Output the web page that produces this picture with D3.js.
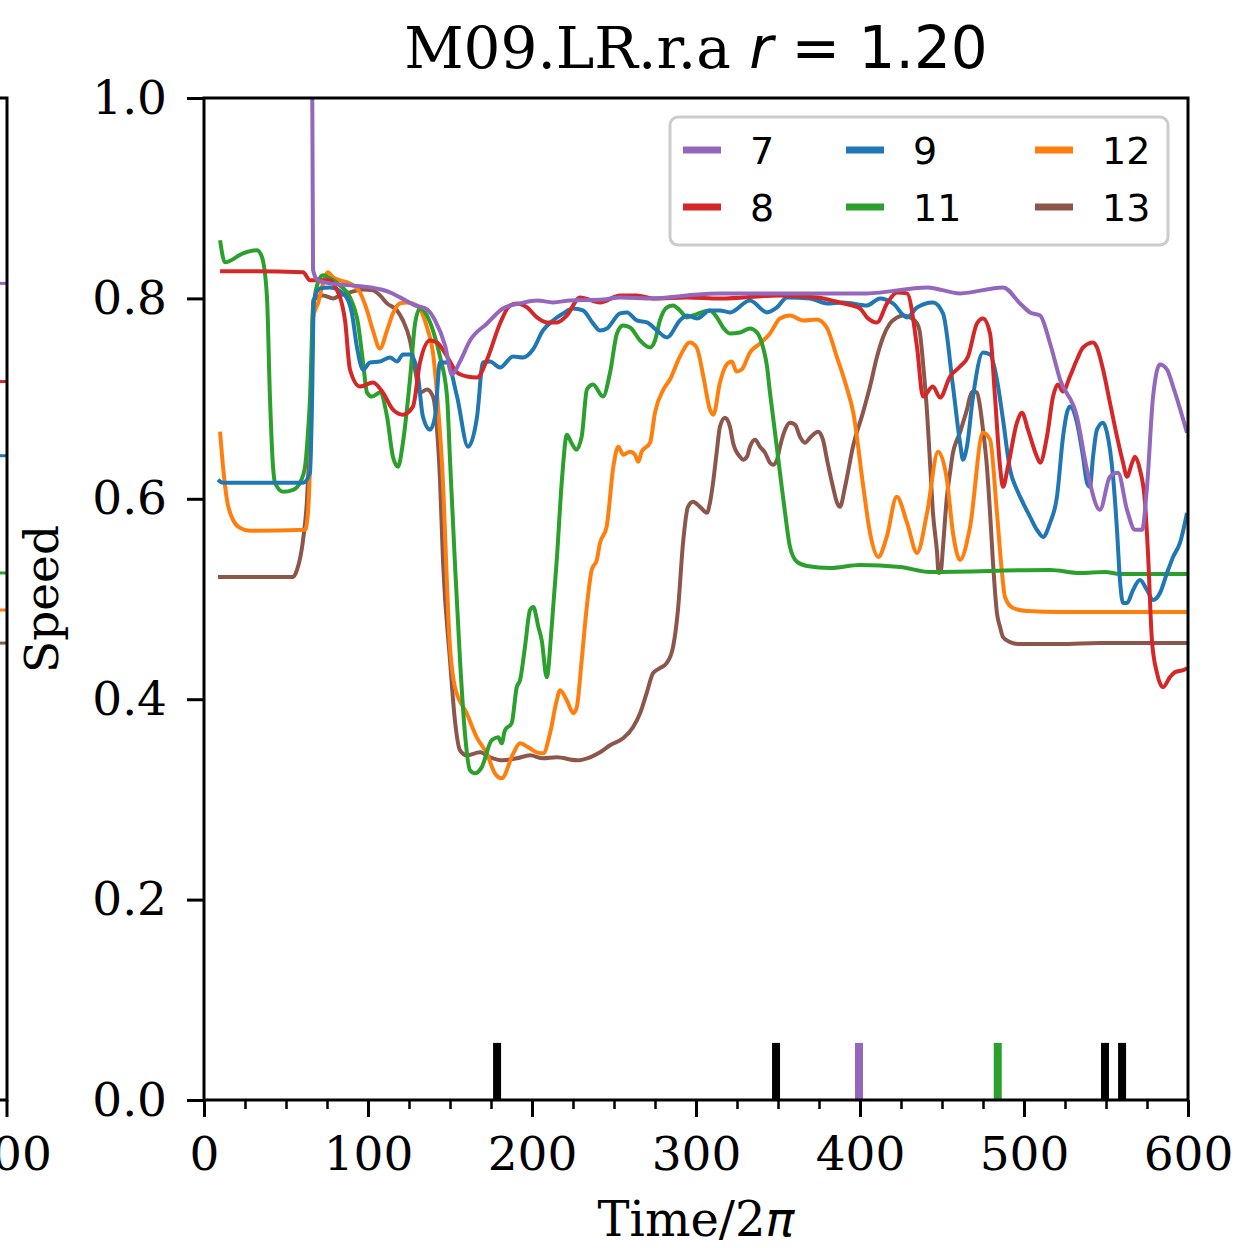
<!DOCTYPE html>
<html>
<head>
<meta charset="utf-8">
<script src="https://cdn.jsdelivr.net/npm/d3@7"></script>
<style>
  body { margin: 0; background: #fff; }
  svg text { fill: #000; }
</style>
</head>
<body>
<div class="container"></div>
<script>
// ---- data ----
var seriesNames = ['7', '8', '9', '11', '12', '13'];
var seriesColors = ['#9467bd', '#d62728', '#1f77b4', '#2ca02c', '#ff7f0e', '#8c564b'];

var xTicks = [0, 100, 200, 300, 400, 500, 600];
var xMinorTicks = [25, 50, 75, 125, 150, 175, 225, 250, 275, 325, 350, 375, 425, 450, 475, 525, 550, 575];
var yTicks = [0, 0.2, 0.4, 0.6, 0.8, 1.0];

var s7 = [[65.2,1.3],[66.5,0.828],[69.5,0.818],[76.8,0.815],[89,0.813],[101.2,0.811],[113.4,0.806],[119.5,0.801],[128.7,0.793],[136,0.789],[140.9,0.778],[147,0.753],[151.2,0.724],[156.1,0.737],[162.2,0.758],[172.6,0.775],[182.3,0.790],[192.7,0.795],[203,0.798],[212.8,0.796],[223.2,0.798],[243.3,0.799],[253.7,0.801],[273.8,0.800],[294.5,0.803],[314.6,0.805],[351.2,0.805],[404.3,0.805],[440.9,0.811],[461,0.805],[487.2,0.811],[497.6,0.795],[503.7,0.786],[509.8,0.783],[515.9,0.755],[522,0.719],[532.3,0.682],[538.4,0.629],[546.3,0.589],[552.4,0.622],[557.3,0.626],[562.8,0.589],[567.7,0.569],[572,0.569],[575,0.612],[578.7,0.702],[582.9,0.734],[587.2,0.729],[590.9,0.712],[599.4,0.666]];

var s8 = [[9.8,0.827],[30,0.827],[60.4,0.826],[64.6,0.818],[76.8,0.818],[79.9,0.812],[86,0.778],[89,0.729],[95.1,0.712],[103,0.716],[109.1,0.706],[115.2,0.689],[121.3,0.684],[127.4,0.692],[131.7,0.736],[137.8,0.758],[142.1,0.756],[148.2,0.742],[154.3,0.726],[160.4,0.722],[166.5,0.721],[172.6,0.739],[180.5,0.775],[186.6,0.793],[190.9,0.795],[197,0.791],[203,0.781],[209.1,0.776],[215.2,0.776],[221.3,0.783],[229.3,0.801],[241.5,0.796],[253.7,0.803],[264,0.803],[273.8,0.800],[294.5,0.801],[314.6,0.800],[351.2,0.803],[373.8,0.801],[389.6,0.795],[400,0.790],[404.3,0.781],[410.4,0.776],[416.5,0.795],[422.6,0.806],[428.7,0.805],[434.8,0.751],[438.4,0.702],[444.5,0.712],[448.8,0.701],[454.9,0.722],[461,0.732],[465.9,0.742],[471.3,0.775],[475,0.780],[479.3,0.765],[482.3,0.702],[485.4,0.632],[487.2,0.612],[490.2,0.632],[495.7,0.676],[498.8,0.686],[502.4,0.669],[507.9,0.642],[509.8,0.636],[514,0.662],[517.7,0.702],[520.7,0.714],[523.8,0.707],[528,0.722],[532.3,0.739],[536,0.751],[542.1,0.756],[544.5,0.751],[548.2,0.729],[552.4,0.696],[556.7,0.662],[560.4,0.636],[562.8,0.622],[565.9,0.636],[567.7,0.642],[570.7,0.629],[573.8,0.596],[575.6,0.546],[578,0.459],[581.1,0.426],[584.8,0.412],[589,0.422],[592.1,0.427],[597,0.429],[599.4,0.431]];

var s9 = [[8.5,0.619],[11.6,0.616],[60.4,0.616],[64.6,0.626],[65.9,0.699],[67,0.798],[70.7,0.810],[76.8,0.811],[86,0.803],[90.2,0.785],[93.3,0.751],[97,0.729],[101.2,0.736],[107.3,0.737],[113.4,0.741],[117.7,0.737],[121.3,0.744],[125.6,0.744],[129.9,0.729],[133.5,0.682],[137.8,0.669],[140.9,0.682],[143.9,0.736],[148.2,0.736],[154.3,0.702],[161,0.652],[166.5,0.682],[170.1,0.736],[174.4,0.737],[180.5,0.731],[188.4,0.742],[194.5,0.741],[200.6,0.749],[206.7,0.768],[212.8,0.778],[218.9,0.785],[225,0.790],[231.1,0.788],[237.2,0.775],[241.5,0.768],[245.7,0.770],[253.7,0.785],[257.9,0.786],[264,0.778],[270.1,0.776],[276.2,0.768],[282.3,0.761],[290.2,0.778],[294.5,0.783],[300.6,0.780],[308.5,0.788],[314.6,0.788],[320.7,0.786],[332.9,0.798],[343.3,0.786],[349.4,0.791],[355.5,0.801],[369.5,0.800],[379.9,0.795],[389.6,0.796],[404.3,0.793],[412.2,0.800],[420.1,0.795],[428.7,0.781],[434.8,0.791],[444.5,0.796],[450.6,0.785],[456.7,0.712],[461,0.656],[462.8,0.639],[465.2,0.652],[468.9,0.702],[475,0.746],[479.3,0.744],[483.5,0.719],[487.2,0.679],[491.5,0.629],[495.7,0.609],[499.4,0.596],[503.7,0.582],[507.9,0.569],[511.6,0.562],[515.9,0.576],[520.1,0.602],[523.8,0.662],[526.2,0.686],[528,0.692],[532.3,0.676],[536,0.642],[538.4,0.616],[540.2,0.612],[542.1,0.642],[544.5,0.669],[548.2,0.676],[550.6,0.666],[554.3,0.622],[556.7,0.569],[558.5,0.519],[560.4,0.496],[562.8,0.496],[566.5,0.509],[570.7,0.519],[575,0.509],[578.7,0.499],[582.9,0.506],[587.2,0.526],[590.9,0.542],[595.1,0.556],[599.4,0.586]];

var s11 = [[9.8,0.858],[12.8,0.836],[23.8,0.845],[32.3,0.848],[35.4,0.841],[38.4,0.801],[40.2,0.702],[42.1,0.632],[43.3,0.616],[48.2,0.607],[54.3,0.609],[58.5,0.616],[61.6,0.632],[63.4,0.666],[64.6,0.699],[66.5,0.788],[69.5,0.816],[72.6,0.823],[76.8,0.820],[82.9,0.813],[89,0.801],[93.9,0.775],[97,0.736],[99.4,0.706],[102.4,0.702],[107.3,0.706],[111.6,0.682],[115.2,0.642],[118.3,0.632],[121.3,0.656],[125.6,0.719],[128.7,0.775],[131.7,0.790],[134.8,0.786],[139.6,0.768],[143.9,0.742],[148.2,0.702],[150,0.639],[153,0.536],[156.1,0.439],[159.1,0.366],[162.2,0.329],[165.2,0.326],[169.3,0.332],[175.4,0.359],[179.5,0.362],[181.5,0.356],[183.5,0.369],[187.6,0.376],[190.7,0.412],[192.7,0.419],[195.7,0.452],[198.8,0.489],[200.8,0.492],[203.9,0.472],[205.9,0.459],[209,0.422],[212,0.472],[215.1,0.539],[218.3,0.620],[221.3,0.664],[224,0.656],[227,0.649],[230.3,0.662],[233.5,0.709],[237.2,0.714],[243.3,0.702],[247.6,0.726],[251.8,0.765],[255.5,0.773],[259.8,0.771],[265.9,0.758],[272,0.751],[275,0.758],[278,0.778],[282.3,0.791],[286,0.793],[290.2,0.788],[294.5,0.781],[298.2,0.783],[308.5,0.788],[312.8,0.781],[316.5,0.771],[320.7,0.765],[326.8,0.766],[332.9,0.770],[337.2,0.766],[340.9,0.751],[343.3,0.732],[345.1,0.706],[348.2,0.666],[351.2,0.626],[354.3,0.586],[357.3,0.552],[361.6,0.537],[367.7,0.533],[381.7,0.531],[400,0.534],[424.4,0.532],[442.7,0.527],[515.9,0.529],[534.1,0.526],[549.4,0.527],[558.5,0.525],[599.4,0.525]];

var s12 = [[9.8,0.667],[11.6,0.632],[14,0.599],[17.7,0.579],[22,0.571],[28,0.568],[61.6,0.569],[63.4,0.586],[65.2,0.669],[66.5,0.781],[69.5,0.795],[72.6,0.815],[75.6,0.826],[78.7,0.821],[82.9,0.818],[89,0.815],[95.1,0.806],[99.4,0.788],[103,0.768],[107.3,0.750],[111.6,0.768],[115.2,0.785],[119.5,0.795],[123.8,0.796],[129.9,0.793],[136,0.771],[139.6,0.746],[142.7,0.692],[145.1,0.636],[150,0.452],[153,0.412],[160.2,0.386],[166.3,0.362],[172.4,0.346],[177.4,0.326],[181.5,0.321],[188.6,0.346],[192.7,0.356],[197.7,0.352],[202.9,0.347],[206.9,0.346],[211,0.366],[215.1,0.399],[217.1,0.409],[221.2,0.399],[225.2,0.386],[227.3,0.392],[230.3,0.439],[233.4,0.492],[236.4,0.529],[239.5,0.539],[241.5,0.556],[245.5,0.572],[249.6,0.632],[252.6,0.652],[255.7,0.644],[259.8,0.647],[262.8,0.644],[264.8,0.637],[266.9,0.647],[272,0.656],[275,0.686],[280.1,0.709],[284.1,0.719],[290.2,0.742],[296.3,0.756],[300.4,0.751],[304.5,0.722],[308.5,0.689],[310.6,0.684],[314.6,0.716],[318.7,0.734],[321.8,0.737],[324.8,0.727],[327.9,0.729],[332.9,0.746],[339,0.755],[345.1,0.765],[351.2,0.780],[357.3,0.783],[365.4,0.778],[373.6,0.779],[379.7,0.771],[385.8,0.742],[391.9,0.711],[395.9,0.686],[402,0.612],[406.1,0.566],[411.2,0.542],[416.3,0.562],[422.4,0.602],[428.7,0.576],[434.8,0.546],[440.9,0.586],[447.6,0.647],[453,0.619],[456.7,0.566],[461,0.539],[467.1,0.572],[475,0.666],[479.3,0.659],[483.5,0.586],[486.6,0.526],[488.4,0.502],[493.3,0.491],[501.8,0.488],[522,0.487],[599.4,0.487]];

var s13 = [[8.5,0.522],[54.3,0.522],[56.7,0.529],[60.4,0.559],[62.8,0.599],[64.6,0.666],[65.9,0.749],[66.5,0.798],[72.6,0.803],[78.7,0.800],[82.9,0.803],[89,0.806],[97,0.809],[103,0.808],[107.3,0.803],[111.6,0.795],[117.7,0.788],[121.3,0.778],[125.6,0.758],[128.7,0.729],[131.7,0.706],[136,0.709],[139.6,0.702],[142.1,0.669],[143.9,0.619],[145.7,0.539],[150,0.439],[153,0.379],[156.1,0.349],[160.2,0.344],[168.3,0.347],[174.4,0.342],[182.3,0.339],[190.7,0.341],[198.8,0.344],[206.7,0.341],[215.1,0.342],[227.3,0.339],[235.4,0.342],[241.5,0.347],[247.6,0.354],[255.5,0.361],[261.6,0.372],[265.9,0.386],[269.9,0.406],[273.8,0.426],[278,0.431],[282.1,0.436],[286,0.452],[289,0.489],[292.1,0.556],[295.1,0.592],[298.2,0.597],[302.4,0.592],[306.7,0.586],[308.5,0.596],[310.4,0.616],[312.8,0.649],[314.6,0.672],[317.7,0.681],[320.7,0.672],[322.6,0.656],[326.8,0.642],[328.7,0.639],[331.1,0.642],[332.9,0.652],[336,0.659],[339,0.652],[342.1,0.646],[345.1,0.636],[347,0.634],[349.4,0.639],[351.2,0.652],[354.3,0.669],[357.3,0.676],[360.4,0.674],[363.4,0.662],[366.5,0.656],[369.5,0.661],[374.4,0.667],[377.4,0.659],[379.9,0.639],[383.5,0.612],[386,0.596],[387.8,0.592],[390.9,0.612],[395.7,0.652],[401.8,0.686],[406.1,0.712],[410.4,0.742],[414,0.761],[418.3,0.775],[422.6,0.781],[426.2,0.783],[430.5,0.781],[434.8,0.775],[436.6,0.765],[438.4,0.736],[440.9,0.686],[442.7,0.636],[444.5,0.586],[447,0.546],[447.9,0.526],[449.4,0.529],[450.6,0.552],[453,0.602],[454.9,0.626],[456.7,0.646],[459.1,0.659],[461,0.666],[462.8,0.676],[465.2,0.689],[467.1,0.702],[468.9,0.707],[471.3,0.706],[473.2,0.692],[475,0.669],[477.4,0.632],[479.3,0.586],[481.1,0.536],[483.5,0.486],[485.4,0.472],[487.2,0.462],[491.5,0.457],[497.6,0.455],[522,0.455],[546.3,0.456],[599.4,0.456]];

var seriesData = [s7, s8, s9, s11, s12, s13];

// tail ends of the neighbouring (cropped) panel's lines
var leftTailValues = [0.815, 0.717, 0.643, 0.526, 0.489, 0.456];

// event markers along the time axis
var eventTimes = [178.7, 348.8, 399.4, 484, 549.4, 559.8];
var eventColors = ['#000000', '#000000', '#9467bd', '#2ca02c', '#000000', '#000000'];
var eventHeight = 0.057;

// ---- layout ----
var W = 1239, H = 1248;
var L = 204, R = 1188, T = 98, B = 1100;
var SERIF = '"DejaVu Serif", serif';
var SANS = '"DejaVu Sans", sans-serif';

var svg = d3.select('.container').append('svg')
    .attr('width', W)
    .attr('height', H);

var x = d3.scaleLinear().domain([0, 600]).range([L, R]);
var y = d3.scaleLinear().domain([0, 1]).range([B, T]);
// the cropped neighbour panel shares the y scale; its right edge sits at x=7
var xLeft = d3.scaleLinear().domain([0, 600]).range([7 - (R - L), 7]);

svg.append('defs').append('clipPath').attr('id', 'plotclip')
    .append('rect').attr('x', L).attr('y', T).attr('width', R - L).attr('height', B - T);

// ---- neighbour panel stub ----
var lineLeft = d3.line().x(d => xLeft(d[0])).y(d => y(d[1]));
leftTailValues.forEach((v, i) => {
    svg.append('path')
        .attr('d', lineLeft([[590, v], [600, v]]))
        .attr('fill', 'none')
        .attr('stroke', seriesColors[i])
        .attr('stroke-width', 3);
});
svg.append('path')
    .attr('d', `M${xLeft(590)},${T}H${xLeft(600)}V${B}H${xLeft(590)}`)
    .attr('fill', 'none').attr('stroke', '#000').attr('stroke-width', 3);
svg.append('line')
    .attr('x1', xLeft(600)).attr('x2', xLeft(600))
    .attr('y1', B).attr('y2', B + 17)
    .attr('stroke', '#000').attr('stroke-width', 3);
svg.append('text')
    .attr('x', xLeft(600)).attr('y', B + 37)
    .attr('dy', '0.71em')
    .attr('text-anchor', 'middle')
    .style('font-family', SERIF).style('font-size', '47px')
    .text('600');

// ---- series ----
var plot = svg.append('g').attr('clip-path', 'url(#plotclip)');
var line = d3.line().x(d => x(d[0])).y(d => y(d[1])).curve(d3.curveMonotoneX);

for (var i = seriesData.length - 1; i >= 0; i--) {
    plot.append('path')
        .attr('d', line(seriesData[i]))
        .attr('fill', 'none')
        .attr('stroke', seriesColors[i])
        .attr('stroke-width', 4)
        .attr('stroke-linejoin', 'round');
}

// event bars
plot.selectAll('.event')
    .data(eventTimes)
    .enter().append('line')
    .classed('event', true)
    .attr('x1', d => x(d)).attr('x2', d => x(d))
    .attr('y1', y(0)).attr('y2', y(eventHeight))
    .attr('stroke', (d, i) => eventColors[i])
    .attr('stroke-width', 8);

// ---- axes ----
var xAxis = d3.axisBottom(x).tickValues(xTicks).tickSize(17).tickPadding(20).tickSizeOuter(0);
var gx = svg.append('g').attr('transform', `translate(0,${B})`).call(xAxis);
gx.select('.domain').remove();
gx.selectAll('line').attr('stroke-width', 3);
gx.selectAll('text').style('font-family', SERIF).style('font-size', '47px').attr('fill', '#000');

var xMinor = d3.axisBottom(x).tickValues(xMinorTicks).tickSize(9).tickFormat('').tickSizeOuter(0);
var gxm = svg.append('g').attr('transform', `translate(0,${B})`).call(xMinor);
gxm.select('.domain').remove();
gxm.selectAll('line').attr('stroke-width', 2.5);

var yAxis = d3.axisLeft(y).tickValues(yTicks).tickFormat(d3.format('.1f')).tickSize(17).tickPadding(20).tickSizeOuter(0);
var gy = svg.append('g').attr('transform', `translate(${L},0)`).call(yAxis);
gy.select('.domain').remove();
gy.selectAll('line').attr('stroke-width', 3);
gy.selectAll('text').style('font-family', SERIF).style('font-size', '47px').attr('fill', '#000');

// frame
svg.append('rect')
    .attr('x', L).attr('y', T).attr('width', R - L).attr('height', B - T)
    .attr('fill', 'none').attr('stroke', '#000').attr('stroke-width', 3);

// ---- labels ----
var title = svg.append('text')
    .attr('x', (L + R) / 2).attr('y', 68)
    .attr('text-anchor', 'middle')
    .style('font-size', '58px');
title.append('tspan').style('font-family', SERIF).text('M09.LR.r.a ');
title.append('tspan').style('font-family', SANS).style('font-style', 'italic').text('r');
title.append('tspan').style('font-family', SANS).text(' = 1.20');

var xl = svg.append('text')
    .attr('x', (L + R) / 2).attr('y', 1236)
    .attr('text-anchor', 'middle')
    .style('font-size', '48px');
xl.append('tspan').style('font-family', SERIF).text('Time/2');
xl.append('tspan').style('font-family', SANS).style('font-style', 'italic').text('π');

svg.append('text')
    .attr('transform', `translate(58,${(T + B) / 2}) rotate(-90)`)
    .attr('text-anchor', 'middle')
    .style('font-family', SERIF).style('font-size', '47px')
    .text('Speed');

// ---- legend ----
var legend = svg.append('g');
legend.append('rect')
    .attr('x', 670).attr('y', 117).attr('width', 498).attr('height', 128)
    .attr('rx', 8)
    .attr('fill', '#fff').attr('fill-opacity', 0.8)
    .attr('stroke', '#cccccc').attr('stroke-width', 3);

var colX = [683, 846, 1035];
var rowY = [150, 207];
seriesNames.forEach((name, i) => {
    var col = Math.floor(i / 2), row = i % 2;
    legend.append('line')
        .attr('x1', colX[col]).attr('x2', colX[col] + 38)
        .attr('y1', rowY[row]).attr('y2', rowY[row])
        .attr('stroke', seriesColors[i]).attr('stroke-width', 7);
    legend.append('text')
        .attr('x', colX[col] + 67).attr('y', rowY[row])
        .attr('dy', '0.36em')
        .style('font-family', SANS).style('font-size', '38px')
        .text(name);
});
</script>
</body>
</html>
